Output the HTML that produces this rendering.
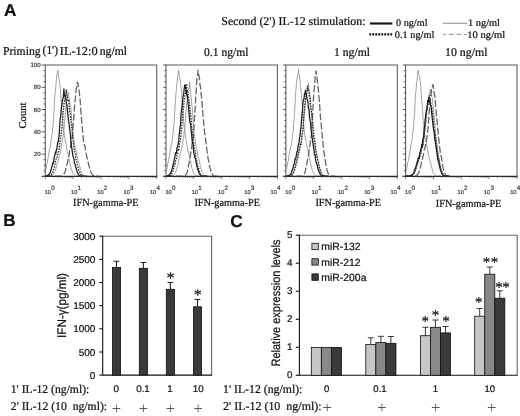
<!DOCTYPE html>
<html><head><meta charset="utf-8"><title>Figure</title>
<style>
html,body{margin:0;padding:0;background:#fff;}
body{width:520px;height:416px;overflow:hidden;}
svg{display:block;}
text{fill:#111;stroke:#111;stroke-width:0.22px;}
.se{font-family:"Liberation Serif",serif;}
.sa{font-family:"Liberation Sans",sans-serif;}
</style></head><body>
<svg width="520" height="416" viewBox="0 0 520 416" text-rendering="geometricPrecision">
<rect width="520" height="416" fill="#fff"/>

<text class="sa" x="3.9" y="15.6" font-size="17.2" font-weight="bold" stroke="#111" stroke-width="0.3">A</text>
<text class="sa" x="3.2" y="225.8" font-size="17" font-weight="bold" stroke="#111" stroke-width="0.3">B</text>
<text class="sa" x="230.2" y="226.9" font-size="17.2" font-weight="bold" stroke="#111" stroke-width="0.3">C</text>
<text class="se" x="221.3" y="24.6" font-size="11.9" textLength="144.3" lengthAdjust="spacingAndGlyphs">Second (2') IL-12 stimulation:</text>
<line x1="370" y1="23.5" x2="392.3" y2="23.5" stroke="#111" stroke-width="2.1"/>
<text class="se" x="396" y="25.8" font-size="10" textLength="31.5" lengthAdjust="spacingAndGlyphs">0 ng/ml</text>
<line x1="443" y1="23.3" x2="467.3" y2="23.3" stroke="#a0a0a0" stroke-width="1.2"/>
<text class="se" x="468" y="25.8" font-size="10" textLength="32" lengthAdjust="spacingAndGlyphs">1 ng/ml</text>
<line x1="369.3" y1="34.4" x2="393.2" y2="34.4" stroke="#111" stroke-width="2.2" stroke-dasharray="1.9 1.1"/>
<text class="se" x="394.8" y="37.6" font-size="10" textLength="39.6" lengthAdjust="spacingAndGlyphs">0.1 ng/ml</text>
<line x1="443" y1="34.4" x2="467.3" y2="34.4" stroke="#a0a0a0" stroke-width="1.2" stroke-dasharray="4.7 3" stroke-dashoffset="1.9"/>
<text class="se" x="467.3" y="37.6" font-size="10" textLength="38" lengthAdjust="spacingAndGlyphs">10 ng/ml</text>
<text class="se" y="54.5" font-size="12.2"><tspan x="3" textLength="37.6" lengthAdjust="spacingAndGlyphs">Priming</tspan><tspan x="42.6" dy="-0.7" textLength="15.4" lengthAdjust="spacingAndGlyphs">(1')</tspan><tspan x="59.8" dy="0.7" textLength="37.8" lengthAdjust="spacingAndGlyphs">IL-12:0</tspan><tspan x="99.8" textLength="27.2" lengthAdjust="spacingAndGlyphs">ng/ml</tspan></text>
<text class="se" x="204" y="55.6" font-size="11.8" textLength="44.5" lengthAdjust="spacingAndGlyphs">0.1 ng/ml</text>
<text class="se" x="334" y="55.6" font-size="11.8" textLength="36" lengthAdjust="spacingAndGlyphs">1 ng/ml</text>
<text class="se" x="445" y="55.6" font-size="11.8" textLength="42.5" lengthAdjust="spacingAndGlyphs">10 ng/ml</text>
<text class="se" transform="translate(25.6,115.5) rotate(-90)" text-anchor="middle" font-size="10.6">Count</text>
<g fill="none" stroke-linejoin="round">
<path d="M45.9,169.1 L46.4,165.8 L46.9,163.5 L47.4,162.2 L47.9,159.0 L48.4,156.4 L48.9,152.9 L49.4,149.7 L49.9,149.3 L50.4,146.6 L50.9,140.8 L51.4,139.2 L51.9,134.7 L52.4,133.1 L52.9,126.7 L53.4,119.6 L53.9,113.6 L54.4,102.6 L54.9,95.0 L55.4,91.4 L55.9,85.7 L56.4,79.0 L56.9,73.8 L57.4,73.4 L57.9,70.4 L58.4,74.4 L58.9,78.7 L59.4,81.8 L59.9,85.4 L60.4,90.3 L60.9,97.1 L61.4,103.8 L61.9,111.1 L62.4,117.3 L62.9,124.1 L63.4,129.8 L63.9,130.9 L64.4,135.6 L64.9,138.2 L65.4,142.5 L65.9,142.2 L66.4,145.2 L66.9,150.4 L67.4,152.1 L67.9,153.1 L68.4,155.6 L68.9,157.4 L69.4,161.1 L69.9,162.5 L70.4,164.9 L70.9,167.5 L71.4,169.0 L71.9,170.6 L72.4,172.0 L72.9,173.2 L73.4,173.8 L73.9,174.5 L74.4,175.0 L74.9,175.4 L75.4,175.7 L75.9,176.0 L76.4,176.1 L76.9,176.1 L77.4,176.1 L77.9,176.1 L78.4,176.1 L78.9,176.1 L79.4,176.1 L79.9,176.1 L80.4,176.1 L80.9,176.1" stroke="#8c8c8c" stroke-width="0.8"/>
<path d="M45.9,176.1 L46.4,176.1 L46.9,176.1 L47.4,176.1 L47.9,176.1 L48.4,176.1 L48.9,176.1 L49.4,176.1 L49.9,176.1 L50.4,176.1 L50.9,176.1 L51.4,175.8 L51.9,175.6 L52.4,175.3 L52.9,174.8 L53.4,174.3 L53.9,173.7 L54.4,172.6 L54.9,171.2 L55.4,170.5 L55.9,168.9 L56.4,166.3 L56.9,164.6 L57.4,162.8 L57.9,161.7 L58.4,159.0 L58.9,157.0 L59.4,155.1 L59.9,154.5 L60.4,151.4 L60.9,149.4 L61.4,146.1 L61.9,142.7 L62.4,139.8 L62.9,138.0 L63.4,134.3 L63.9,129.7 L64.4,124.6 L64.9,118.7 L65.4,111.9 L65.9,107.9 L66.4,103.7 L66.9,98.4 L67.4,97.0 L67.9,95.1 L68.4,92.4 L68.9,97.6 L69.4,98.9 L69.9,102.9 L70.4,105.5 L70.9,108.3 L71.4,114.7 L71.9,122.5 L72.4,126.3 L72.9,132.3 L73.4,136.8 L73.9,139.8 L74.4,143.5 L74.9,145.9 L75.4,149.7 L75.9,149.7 L76.4,152.0 L76.9,156.9 L77.4,157.1 L77.9,159.3 L78.4,162.0 L78.9,163.9 L79.4,165.9 L79.9,167.0 L80.4,169.3 L80.9,170.7 L81.4,172.5 L81.9,173.4 L82.4,174.1 L82.9,174.7 L83.4,175.2 L83.9,175.6 L84.4,175.8 L84.9,176.1 L85.4,176.1 L85.9,176.1 L86.4,176.1 L86.9,176.1 L87.4,176.1 L87.9,176.1 L88.4,176.1 L88.9,176.1 L89.4,176.1" stroke="#8c8c8c" stroke-width="0.8"/>
<path d="M45.9,176.1 L46.4,176.1 L46.9,176.1 L47.4,176.1 L47.9,176.1 L48.4,176.1 L48.9,176.1 L49.4,176.1 L49.9,176.1 L50.4,176.1 L50.9,176.1 L51.4,176.1 L51.9,176.1 L52.4,176.1 L52.9,176.1 L53.4,176.1 L53.9,176.1 L54.4,176.1 L54.9,176.1 L55.4,176.1 L55.9,176.1 L56.4,176.1 L56.9,176.1 L57.4,176.1 L57.9,176.1 L58.4,176.1 L58.9,176.1 L59.4,176.1 L59.9,176.1 L60.4,176.1 L60.9,176.1 L61.4,176.1 L61.9,175.9 L62.4,175.6 L62.9,175.3 L63.4,174.7 L63.9,174.0 L64.4,173.4 L64.9,172.5 L65.4,170.6 L65.9,168.8 L66.4,166.5 L66.9,164.3 L67.4,163.3 L67.9,161.2 L68.4,156.4 L68.9,155.9 L69.4,153.5 L69.9,148.2 L70.4,147.4 L70.9,143.5 L71.4,142.0 L71.9,138.0 L72.4,135.8 L72.9,129.4 L73.4,122.6 L73.9,116.5 L74.4,108.4 L74.9,102.1 L75.4,98.7 L75.9,91.4 L76.4,88.0 L76.9,86.0 L77.4,82.2 L77.9,83.2 L78.4,86.8 L78.9,89.3 L79.4,92.9 L79.9,98.3 L80.4,103.2 L80.9,111.6 L81.4,117.3 L81.9,125.3 L82.4,129.0 L82.9,133.6 L83.4,140.1 L83.9,143.2 L84.4,145.5 L84.9,145.4 L85.4,149.8 L85.9,151.6 L86.4,155.1 L86.9,156.7 L87.4,159.4 L87.9,161.7 L88.4,163.4 L88.9,165.5 L89.4,167.0 L89.9,169.3 L90.4,170.9 L90.9,172.5 L91.4,173.5 L91.9,174.2 L92.4,174.8 L92.9,175.3 L93.4,175.6 L93.9,175.9 L94.4,176.1 L94.9,176.1 L95.4,176.1 L95.9,176.1 L96.4,176.1 L96.9,176.1 L97.4,176.1 L97.9,176.1 L98.4,176.1 L98.9,176.1" stroke="#666" stroke-width="1.3" stroke-dasharray="7 2.2"/>
<path d="M45.9,176.1 L46.4,176.1 L46.9,176.1 L47.4,176.1 L47.9,176.1 L48.4,176.1 L48.9,176.1 L49.4,175.8 L49.9,175.6 L50.4,175.3 L50.9,174.8 L51.4,174.2 L51.9,173.7 L52.4,173.0 L52.9,171.9 L53.4,170.1 L53.9,168.9 L54.4,167.5 L54.9,165.1 L55.4,161.9 L55.9,160.1 L56.4,158.1 L56.9,158.2 L57.4,154.9 L57.9,154.0 L58.4,152.3 L58.9,150.4 L59.4,147.8 L59.9,142.1 L60.4,139.5 L60.9,136.3 L61.4,132.3 L61.9,129.7 L62.4,123.1 L62.9,115.8 L63.4,110.0 L63.9,104.8 L64.4,100.7 L64.9,100.8 L65.4,95.7 L65.9,93.5 L66.4,90.2 L66.9,95.7 L67.4,96.1 L67.9,100.3 L68.4,99.4 L68.9,103.0 L69.4,108.1 L69.9,113.2 L70.4,114.8 L70.9,120.7 L71.4,123.8 L71.9,128.4 L72.4,134.2 L72.9,138.7 L73.4,141.8 L73.9,146.1 L74.4,150.5 L74.9,152.9 L75.4,153.5 L75.9,159.3 L76.4,161.5 L76.9,162.1 L77.4,165.1 L77.9,166.6 L78.4,168.6 L78.9,170.4 L79.4,171.2 L79.9,173.1 L80.4,173.9 L80.9,174.7 L81.4,175.2 L81.9,175.7 L82.4,176.0 L82.9,176.1 L83.4,176.1 L83.9,176.1 L84.4,176.1 L84.9,176.1 L85.4,176.1 L85.9,176.1 L86.4,176.1 L86.9,176.1 L87.4,176.1" stroke="#222" stroke-width="1.35" stroke-dasharray="1.4 1.3"/>
<path d="M45.9,176.1 L46.4,176.1 L46.9,175.9 L47.4,175.7 L47.9,175.4 L48.4,175.0 L48.9,174.4 L49.4,173.9 L49.9,173.2 L50.4,172.0 L50.9,170.3 L51.4,168.5 L51.9,166.5 L52.4,165.1 L52.9,162.7 L53.4,163.2 L53.9,160.0 L54.4,156.2 L54.9,155.3 L55.4,152.0 L55.9,153.4 L56.4,149.7 L56.9,148.5 L57.4,144.8 L57.9,141.9 L58.4,141.2 L58.9,136.5 L59.4,131.5 L59.9,122.9 L60.4,117.5 L60.9,114.5 L61.4,106.8 L61.9,105.4 L62.4,99.7 L62.9,98.7 L63.4,97.0 L63.9,88.8 L64.4,95.2 L64.9,96.6 L65.4,95.3 L65.9,98.4 L66.4,104.1 L66.9,104.7 L67.4,110.5 L67.9,114.1 L68.4,120.5 L68.9,121.7 L69.4,127.3 L69.9,130.5 L70.4,135.0 L70.9,141.6 L71.4,145.0 L71.9,149.2 L72.4,152.4 L72.9,155.7 L73.4,157.3 L73.9,158.7 L74.4,163.0 L74.9,163.3 L75.4,166.2 L75.9,168.1 L76.4,169.1 L76.9,171.1 L77.4,172.6 L77.9,173.5 L78.4,174.4 L78.9,175.0 L79.4,175.5 L79.9,175.9 L80.4,176.1 L80.9,176.1 L81.4,176.1 L81.9,176.1 L82.4,176.1 L82.9,176.1 L83.4,176.1 L83.9,176.1 L84.4,176.1 L84.9,176.1" stroke="#1c1c1c" stroke-width="1.25"/>
</g>
<path d="M45.3,176.4V65.0H156.7V176.4" fill="none" stroke="#5a5a5a" stroke-width="1.05"/>
<path d="M42.3,176.4H157.29999999999998" fill="none" stroke="#2a2a2a" stroke-width="1.4"/>
<path d="M41.5,176.4H45.3M43.6,170.8H45.3M43.6,165.3H45.3M43.6,159.7H45.3M41.5,154.1H45.3M43.6,148.6H45.3M43.6,143.0H45.3M43.6,137.4H45.3M41.5,131.8H45.3M43.6,126.3H45.3M43.6,120.7H45.3M43.6,115.1H45.3M41.5,109.6H45.3M43.6,104.0H45.3M43.6,98.4H45.3M43.6,92.9H45.3M41.5,87.3H45.3M43.6,81.7H45.3M43.6,76.1H45.3M43.6,70.6H45.3M41.5,65.0H45.3" stroke="#444" stroke-width="0.9" fill="none"/>
<path d="M45.3,176.4v2.8M53.7,176.4v1.5M58.6,176.4v1.5M62.1,176.4v1.5M64.8,176.4v1.5M67.0,176.4v1.5M68.8,176.4v1.5M70.5,176.4v1.5M71.9,176.4v1.5M73.2,176.4v2.8M81.5,176.4v1.5M86.4,176.4v1.5M89.9,176.4v1.5M92.6,176.4v1.5M94.8,176.4v1.5M96.7,176.4v1.5M98.3,176.4v1.5M99.7,176.4v1.5M101.0,176.4v2.8M109.4,176.4v1.5M114.3,176.4v1.5M117.8,176.4v1.5M120.5,176.4v1.5M122.7,176.4v1.5M124.5,176.4v1.5M126.2,176.4v1.5M127.6,176.4v1.5M128.9,176.4v2.8M137.2,176.4v1.5M142.1,176.4v1.5M145.6,176.4v1.5M148.3,176.4v1.5M150.5,176.4v1.5M152.4,176.4v1.5M154.0,176.4v1.5M155.4,176.4v1.5M156.7,176.4v2.8" stroke="#333" stroke-width="0.6" fill="none"/>
<text class="sa" x="44.7" y="193.5" font-size="5.7" style="fill:#3a3a3a;stroke:#3a3a3a;stroke-width:0.2px">10</text>
<text class="sa" x="51.2" y="189.8" font-size="6.3" style="fill:#3a3a3a;stroke:#3a3a3a;stroke-width:0.2px">0</text>
<text class="sa" x="71.0" y="193.5" font-size="5.7" style="fill:#3a3a3a;stroke:#3a3a3a;stroke-width:0.2px">10</text>
<text class="sa" x="77.5" y="189.8" font-size="6.3" style="fill:#3a3a3a;stroke:#3a3a3a;stroke-width:0.2px">1</text>
<text class="sa" x="97.3" y="193.5" font-size="5.7" style="fill:#3a3a3a;stroke:#3a3a3a;stroke-width:0.2px">10</text>
<text class="sa" x="103.8" y="189.8" font-size="6.3" style="fill:#3a3a3a;stroke:#3a3a3a;stroke-width:0.2px">2</text>
<text class="sa" x="123.6" y="193.5" font-size="5.7" style="fill:#3a3a3a;stroke:#3a3a3a;stroke-width:0.2px">10</text>
<text class="sa" x="130.1" y="189.8" font-size="6.3" style="fill:#3a3a3a;stroke:#3a3a3a;stroke-width:0.2px">3</text>
<text class="sa" x="149.9" y="193.5" font-size="5.7" style="fill:#3a3a3a;stroke:#3a3a3a;stroke-width:0.2px">10</text>
<text class="sa" x="156.4" y="189.8" font-size="6.3" style="fill:#3a3a3a;stroke:#3a3a3a;stroke-width:0.2px">4</text>
<text class="se" x="73.0" y="206.4" font-size="10.9" textLength="65.6" lengthAdjust="spacingAndGlyphs">IFN-gamma-PE</text>
<g fill="none" stroke-linejoin="round">
<path d="M166.6,169.6 L167.1,167.2 L167.6,164.2 L168.1,162.7 L168.6,160.0 L169.1,157.0 L169.6,155.7 L170.1,151.8 L170.6,148.6 L171.1,145.1 L171.6,144.6 L172.1,140.9 L172.6,138.4 L173.1,131.9 L173.6,127.8 L174.1,124.7 L174.6,114.2 L175.1,105.9 L175.6,98.8 L176.1,91.9 L176.6,87.4 L177.1,82.7 L177.6,76.5 L178.1,75.0 L178.6,70.0 L179.1,74.2 L179.6,77.5 L180.1,79.3 L180.6,83.6 L181.1,87.0 L181.6,93.7 L182.1,99.6 L182.6,107.1 L183.1,114.0 L183.6,121.3 L184.1,127.0 L184.6,128.8 L185.1,132.6 L185.6,136.3 L186.1,139.6 L186.6,143.6 L187.1,146.5 L187.6,148.8 L188.1,152.1 L188.6,152.0 L189.1,155.6 L189.6,156.6 L190.1,160.3 L190.6,161.3 L191.1,163.7 L191.6,167.2 L192.1,168.7 L192.6,169.8 L193.1,171.9 L193.6,172.6 L194.1,173.6 L194.6,174.2 L195.1,174.8 L195.6,175.3 L196.1,175.6 L196.6,175.9 L197.1,176.1 L197.6,176.1 L198.1,176.1 L198.6,176.1 L199.1,176.1 L199.6,176.1 L200.1,176.1 L200.6,176.1 L201.1,176.1 L201.6,176.1" stroke="#8c8c8c" stroke-width="0.8"/>
<path d="M166.6,176.1 L167.1,176.1 L167.6,176.1 L168.1,176.1 L168.6,176.1 L169.1,176.1 L169.6,176.1 L170.1,176.1 L170.6,176.1 L171.1,176.1 L171.6,176.1 L172.1,176.0 L172.6,175.7 L173.1,175.5 L173.6,175.1 L174.1,174.5 L174.6,173.9 L175.1,173.3 L175.6,172.3 L176.1,170.7 L176.6,168.9 L177.1,167.8 L177.6,166.3 L178.1,163.8 L178.6,162.0 L179.1,158.5 L179.6,156.6 L180.1,154.7 L180.6,152.6 L181.1,150.0 L181.6,149.5 L182.1,146.1 L182.6,144.7 L183.1,139.2 L183.6,138.9 L184.1,132.4 L184.6,130.5 L185.1,122.4 L185.6,117.0 L186.1,110.4 L186.6,103.2 L187.1,101.3 L187.6,96.9 L188.1,90.3 L188.6,88.9 L189.1,88.7 L189.6,82.0 L190.1,87.2 L190.6,93.3 L191.1,96.2 L191.6,102.0 L192.1,106.9 L192.6,112.4 L193.1,121.2 L193.6,126.2 L194.1,134.0 L194.6,137.9 L195.1,139.4 L195.6,143.9 L196.1,146.5 L196.6,148.4 L197.1,151.4 L197.6,154.2 L198.1,157.7 L198.6,157.9 L199.1,159.7 L199.6,162.2 L200.1,165.1 L200.6,167.6 L201.1,169.5 L201.6,171.0 L202.1,172.6 L202.6,173.6 L203.1,174.2 L203.6,174.9 L204.1,175.4 L204.6,175.7 L205.1,176.0 L205.6,176.1 L206.1,176.1 L206.6,176.1 L207.1,176.1 L207.6,176.1 L208.1,176.1 L208.6,176.1 L209.1,176.1 L209.6,176.1 L210.1,176.1" stroke="#8c8c8c" stroke-width="0.8"/>
<path d="M166.6,176.1 L167.1,176.1 L167.6,176.1 L168.1,176.1 L168.6,176.1 L169.1,176.1 L169.6,176.1 L170.1,176.1 L170.6,176.1 L171.1,176.1 L171.6,176.1 L172.1,176.1 L172.6,176.1 L173.1,176.1 L173.6,176.1 L174.1,176.1 L174.6,176.1 L175.1,176.1 L175.6,176.1 L176.1,176.1 L176.6,176.1 L177.1,176.1 L177.6,176.1 L178.1,176.1 L178.6,176.1 L179.1,176.1 L179.6,176.1 L180.1,176.1 L180.6,176.1 L181.1,176.1 L181.6,176.1 L182.1,176.1 L182.6,176.1 L183.1,176.1 L183.6,176.1 L184.1,176.1 L184.6,175.9 L185.1,175.6 L185.6,175.1 L186.1,174.4 L186.6,173.5 L187.1,172.6 L187.6,170.4 L188.1,167.9 L188.6,164.9 L189.1,163.5 L189.6,160.5 L190.1,157.8 L190.6,154.5 L191.1,149.5 L191.6,148.4 L192.1,143.5 L192.6,141.2 L193.1,137.0 L193.6,131.5 L194.1,124.1 L194.6,116.9 L195.1,109.4 L195.6,99.4 L196.1,92.3 L196.6,83.4 L197.1,78.4 L197.6,74.8 L198.1,70.2 L198.6,74.7 L199.1,76.2 L199.6,79.9 L200.1,85.5 L200.6,87.6 L201.1,93.7 L201.6,97.8 L202.1,103.9 L202.6,110.0 L203.1,115.9 L203.6,121.2 L204.1,127.0 L204.6,132.8 L205.1,135.0 L205.6,139.4 L206.1,142.7 L206.6,147.4 L207.1,151.4 L207.6,154.0 L208.1,159.0 L208.6,160.4 L209.1,163.6 L209.6,166.4 L210.1,168.5 L210.6,170.0 L211.1,171.8 L211.6,173.0 L212.1,174.1 L212.6,174.9 L213.1,175.4 L213.6,175.9 L214.1,176.1 L214.6,176.1 L215.1,176.1 L215.6,176.1 L216.1,176.1 L216.6,176.1 L217.1,176.1 L217.6,176.1 L218.1,176.1 L218.6,176.1" stroke="#666" stroke-width="1.3" stroke-dasharray="7 2.2"/>
<path d="M166.6,176.1 L167.1,176.1 L167.6,176.1 L168.1,176.1 L168.6,176.1 L169.1,175.9 L169.6,175.7 L170.1,175.4 L170.6,175.0 L171.1,174.5 L171.6,173.9 L172.1,173.2 L172.6,172.5 L173.1,170.4 L173.6,168.7 L174.1,166.4 L174.6,165.9 L175.1,164.1 L175.6,160.7 L176.1,158.8 L176.6,158.0 L177.1,154.4 L177.6,153.5 L178.1,149.6 L178.6,150.3 L179.1,147.5 L179.6,142.1 L180.1,141.7 L180.6,138.8 L181.1,132.5 L181.6,128.6 L182.1,124.8 L182.6,116.5 L183.1,109.9 L183.6,106.9 L184.1,100.1 L184.6,98.5 L185.1,94.2 L185.6,92.7 L186.1,87.5 L186.6,83.9 L187.1,91.0 L187.6,90.5 L188.1,95.6 L188.6,98.0 L189.1,100.6 L189.6,105.5 L190.1,112.4 L190.6,114.8 L191.1,119.3 L191.6,126.0 L192.1,131.1 L192.6,132.1 L193.1,137.9 L193.6,143.2 L194.1,145.7 L194.6,150.1 L195.1,150.6 L195.6,154.9 L196.1,159.1 L196.6,159.2 L197.1,163.7 L197.6,165.4 L198.1,167.8 L198.6,168.5 L199.1,171.0 L199.6,171.9 L200.1,173.2 L200.6,174.1 L201.1,174.8 L201.6,175.4 L202.1,175.8 L202.6,176.1 L203.1,176.1 L203.6,176.1 L204.1,176.1 L204.6,176.1 L205.1,176.1 L205.6,176.1 L206.1,176.1 L206.6,176.1 L207.1,176.1 L207.6,176.1" stroke="#222" stroke-width="1.35" stroke-dasharray="1.4 1.3"/>
<path d="M166.6,176.1 L167.1,176.1 L167.6,175.9 L168.1,175.7 L168.6,175.4 L169.1,175.0 L169.6,174.4 L170.1,173.8 L170.6,173.1 L171.1,171.7 L171.6,171.1 L172.1,168.5 L172.6,167.7 L173.1,164.2 L173.6,164.6 L174.1,160.1 L174.6,158.5 L175.1,155.7 L175.6,152.8 L176.1,153.9 L176.6,151.3 L177.1,147.3 L177.6,146.9 L178.1,144.5 L178.6,141.8 L179.1,135.7 L179.6,131.7 L180.1,127.3 L180.6,123.9 L181.1,114.2 L181.6,109.8 L182.1,105.8 L182.6,100.2 L183.1,96.3 L183.6,94.4 L184.1,89.6 L184.6,85.8 L185.1,84.7 L185.6,87.5 L186.1,90.7 L186.6,94.4 L187.1,95.4 L187.6,98.3 L188.1,104.4 L188.6,106.5 L189.1,115.0 L189.6,118.9 L190.1,123.4 L190.6,124.5 L191.1,130.0 L191.6,134.2 L192.1,140.1 L192.6,142.9 L193.1,144.5 L193.6,151.2 L194.1,154.1 L194.6,157.1 L195.1,157.9 L195.6,159.2 L196.1,162.5 L196.6,165.0 L197.1,166.8 L197.6,169.1 L198.1,169.8 L198.6,171.9 L199.1,173.1 L199.6,173.9 L200.1,174.6 L200.6,175.2 L201.1,175.6 L201.6,176.0 L202.1,176.1 L202.6,176.1 L203.1,176.1 L203.6,176.1 L204.1,176.1 L204.6,176.1 L205.1,176.1 L205.6,176.1 L206.1,176.1 L206.6,176.1" stroke="#1c1c1c" stroke-width="1.25"/>
</g>
<path d="M166.0,176.4V65.0H277.4V176.4" fill="none" stroke="#5a5a5a" stroke-width="1.05"/>
<path d="M163.0,176.4H278.0" fill="none" stroke="#2a2a2a" stroke-width="1.4"/>
<path d="M163.2,176.4H166.0M164.3,170.8H166.0M164.3,165.3H166.0M164.3,159.7H166.0M163.2,154.1H166.0M164.3,148.6H166.0M164.3,143.0H166.0M164.3,137.4H166.0M163.2,131.8H166.0M164.3,126.3H166.0M164.3,120.7H166.0M164.3,115.1H166.0M163.2,109.6H166.0M164.3,104.0H166.0M164.3,98.4H166.0M164.3,92.9H166.0M163.2,87.3H166.0M164.3,81.7H166.0M164.3,76.1H166.0M164.3,70.6H166.0M163.2,65.0H166.0" stroke="#444" stroke-width="0.9" fill="none"/>
<path d="M166.0,176.4v2.8M174.4,176.4v1.5M179.3,176.4v1.5M182.8,176.4v1.5M185.5,176.4v1.5M187.7,176.4v1.5M189.5,176.4v1.5M191.2,176.4v1.5M192.6,176.4v1.5M193.8,176.4v2.8M202.2,176.4v1.5M207.1,176.4v1.5M210.6,176.4v1.5M213.3,176.4v1.5M215.5,176.4v1.5M217.4,176.4v1.5M219.0,176.4v1.5M220.4,176.4v1.5M221.7,176.4v2.8M230.1,176.4v1.5M235.0,176.4v1.5M238.5,176.4v1.5M241.2,176.4v1.5M243.4,176.4v1.5M245.2,176.4v1.5M246.9,176.4v1.5M248.3,176.4v1.5M249.6,176.4v2.8M257.9,176.4v1.5M262.8,176.4v1.5M266.3,176.4v1.5M269.0,176.4v1.5M271.2,176.4v1.5M273.1,176.4v1.5M274.7,176.4v1.5M276.1,176.4v1.5M277.4,176.4v2.8" stroke="#333" stroke-width="0.6" fill="none"/>
<text class="sa" x="165.4" y="193.5" font-size="5.7" style="fill:#3a3a3a;stroke:#3a3a3a;stroke-width:0.2px">10</text>
<text class="sa" x="171.9" y="189.8" font-size="6.3" style="fill:#3a3a3a;stroke:#3a3a3a;stroke-width:0.2px">0</text>
<text class="sa" x="191.7" y="193.5" font-size="5.7" style="fill:#3a3a3a;stroke:#3a3a3a;stroke-width:0.2px">10</text>
<text class="sa" x="198.2" y="189.8" font-size="6.3" style="fill:#3a3a3a;stroke:#3a3a3a;stroke-width:0.2px">1</text>
<text class="sa" x="218.0" y="193.5" font-size="5.7" style="fill:#3a3a3a;stroke:#3a3a3a;stroke-width:0.2px">10</text>
<text class="sa" x="224.5" y="189.8" font-size="6.3" style="fill:#3a3a3a;stroke:#3a3a3a;stroke-width:0.2px">2</text>
<text class="sa" x="244.3" y="193.5" font-size="5.7" style="fill:#3a3a3a;stroke:#3a3a3a;stroke-width:0.2px">10</text>
<text class="sa" x="250.8" y="189.8" font-size="6.3" style="fill:#3a3a3a;stroke:#3a3a3a;stroke-width:0.2px">3</text>
<text class="sa" x="270.6" y="193.5" font-size="5.7" style="fill:#3a3a3a;stroke:#3a3a3a;stroke-width:0.2px">10</text>
<text class="sa" x="277.1" y="189.8" font-size="6.3" style="fill:#3a3a3a;stroke:#3a3a3a;stroke-width:0.2px">4</text>
<text class="se" x="194.4" y="206.4" font-size="10.9" textLength="65.6" lengthAdjust="spacingAndGlyphs">IFN-gamma-PE</text>
<g fill="none" stroke-linejoin="round">
<path d="M286.5,169.0 L287.0,166.1 L287.5,163.8 L288.0,161.6 L288.5,159.7 L289.0,155.3 L289.5,152.4 L290.0,150.7 L290.5,147.9 L291.0,145.9 L291.5,143.7 L292.0,139.5 L292.5,135.3 L293.0,132.9 L293.5,125.4 L294.0,121.4 L294.5,113.6 L295.0,105.8 L295.5,94.6 L296.0,88.9 L296.5,82.7 L297.0,78.8 L297.5,77.0 L298.0,73.6 L298.5,69.4 L299.0,75.5 L299.5,75.4 L300.0,81.2 L300.5,86.4 L301.0,89.2 L301.5,97.5 L302.0,101.4 L302.5,110.3 L303.0,117.0 L303.5,123.9 L304.0,128.2 L304.5,133.2 L305.0,137.4 L305.5,137.4 L306.0,142.3 L306.5,142.9 L307.0,147.6 L307.5,147.4 L308.0,150.1 L308.5,153.0 L309.0,155.4 L309.5,158.4 L310.0,160.4 L310.5,164.0 L311.0,165.2 L311.5,166.7 L312.0,169.5 L312.5,170.5 L313.0,172.0 L313.5,173.2 L314.0,173.8 L314.5,174.5 L315.0,175.0 L315.5,175.4 L316.0,175.7 L316.5,176.0 L317.0,176.1 L317.5,176.1 L318.0,176.1 L318.5,176.1 L319.0,176.1 L319.5,176.1 L320.0,176.1 L320.5,176.1 L321.0,176.1 L321.5,176.1" stroke="#8c8c8c" stroke-width="0.8"/>
<path d="M286.5,176.1 L287.0,176.1 L287.5,176.1 L288.0,176.1 L288.5,176.1 L289.0,176.1 L289.5,176.0 L290.0,175.7 L290.5,175.5 L291.0,175.1 L291.5,174.7 L292.0,174.1 L292.5,173.6 L293.0,172.5 L293.5,171.9 L294.0,170.7 L294.5,168.0 L295.0,167.5 L295.5,166.0 L296.0,163.3 L296.5,162.0 L297.0,158.7 L297.5,158.6 L298.0,154.4 L298.5,154.5 L299.0,151.5 L299.5,148.2 L300.0,147.0 L300.5,144.0 L301.0,142.5 L301.5,142.3 L302.0,136.2 L302.5,133.8 L303.0,130.8 L303.5,125.9 L304.0,117.7 L304.5,112.8 L305.0,106.1 L305.5,101.9 L306.0,97.0 L306.5,94.8 L307.0,91.2 L307.5,89.2 L308.0,89.0 L308.5,83.1 L309.0,90.4 L309.5,91.8 L310.0,95.2 L310.5,101.0 L311.0,108.3 L311.5,112.3 L312.0,120.0 L312.5,128.5 L313.0,134.5 L313.5,137.1 L314.0,142.6 L314.5,142.4 L315.0,146.5 L315.5,149.0 L316.0,151.9 L316.5,153.5 L317.0,155.1 L317.5,159.3 L318.0,161.4 L318.5,163.2 L319.0,165.8 L319.5,167.3 L320.0,169.3 L320.5,171.3 L321.0,172.6 L321.5,173.6 L322.0,174.3 L322.5,174.9 L323.0,175.4 L323.5,175.7 L324.0,176.0 L324.5,176.1 L325.0,176.1 L325.5,176.1 L326.0,176.1 L326.5,176.1 L327.0,176.1 L327.5,176.1 L328.0,176.1 L328.5,176.1 L329.0,176.1" stroke="#8c8c8c" stroke-width="0.8"/>
<path d="M286.5,176.1 L287.0,176.1 L287.5,176.1 L288.0,176.1 L288.5,176.1 L289.0,176.1 L289.5,176.1 L290.0,176.1 L290.5,176.1 L291.0,176.1 L291.5,176.1 L292.0,176.1 L292.5,176.1 L293.0,176.1 L293.5,176.1 L294.0,176.1 L294.5,176.1 L295.0,176.1 L295.5,176.1 L296.0,176.1 L296.5,176.1 L297.0,176.1 L297.5,176.1 L298.0,176.1 L298.5,176.1 L299.0,176.1 L299.5,176.1 L300.0,176.1 L300.5,176.1 L301.0,176.1 L301.5,176.1 L302.0,176.1 L302.5,175.9 L303.0,175.6 L303.5,175.1 L304.0,174.4 L304.5,173.5 L305.0,172.2 L305.5,170.2 L306.0,167.6 L306.5,166.3 L307.0,162.6 L307.5,160.0 L308.0,156.6 L308.5,154.9 L309.0,151.5 L309.5,147.2 L310.0,144.6 L310.5,140.4 L311.0,138.0 L311.5,132.8 L312.0,124.6 L312.5,117.6 L313.0,107.6 L313.5,97.8 L314.0,91.6 L314.5,86.3 L315.0,78.5 L315.5,75.5 L316.0,70.8 L316.5,75.5 L317.0,76.9 L317.5,82.8 L318.0,85.7 L318.5,92.2 L319.0,97.1 L319.5,102.8 L320.0,110.3 L320.5,117.4 L321.0,122.3 L321.5,127.3 L322.0,133.3 L322.5,138.9 L323.0,142.8 L323.5,148.6 L324.0,152.6 L324.5,155.7 L325.0,157.6 L325.5,162.3 L326.0,165.3 L326.5,167.7 L327.0,170.0 L327.5,171.5 L328.0,172.8 L328.5,174.1 L329.0,174.9 L329.5,175.5 L330.0,176.0 L330.5,176.1 L331.0,176.1 L331.5,176.1 L332.0,176.1 L332.5,176.1 L333.0,176.1 L333.5,176.1 L334.0,176.1 L334.5,176.1 L335.0,176.1" stroke="#666" stroke-width="1.3" stroke-dasharray="7 2.2"/>
<path d="M286.5,176.1 L287.0,176.1 L287.5,176.1 L288.0,176.1 L288.5,176.1 L289.0,176.1 L289.5,176.1 L290.0,176.1 L290.5,175.9 L291.0,175.6 L291.5,175.3 L292.0,174.8 L292.5,174.2 L293.0,173.7 L293.5,172.7 L294.0,171.2 L294.5,170.4 L295.0,167.5 L295.5,167.2 L296.0,164.3 L296.5,163.9 L297.0,159.9 L297.5,159.9 L298.0,155.7 L298.5,153.5 L299.0,151.1 L299.5,150.3 L300.0,146.2 L300.5,143.4 L301.0,144.7 L301.5,139.9 L302.0,134.5 L302.5,131.3 L303.0,127.4 L303.5,121.8 L304.0,112.6 L304.5,110.8 L305.0,102.8 L305.5,98.0 L306.0,97.4 L306.5,93.5 L307.0,91.4 L307.5,86.1 L308.0,90.7 L308.5,90.0 L309.0,92.3 L309.5,97.9 L310.0,98.7 L310.5,106.2 L311.0,110.2 L311.5,112.1 L312.0,116.1 L312.5,120.7 L313.0,124.6 L313.5,129.7 L314.0,136.7 L314.5,138.7 L315.0,141.7 L315.5,148.9 L316.0,150.3 L316.5,154.8 L317.0,157.5 L317.5,158.8 L318.0,160.8 L318.5,162.4 L319.0,166.6 L319.5,167.8 L320.0,168.9 L320.5,170.9 L321.0,172.4 L321.5,173.6 L322.0,174.4 L322.5,175.1 L323.0,175.6 L323.5,175.9 L324.0,176.1 L324.5,176.1 L325.0,176.1 L325.5,176.1 L326.0,176.1 L326.5,176.1 L327.0,176.1 L327.5,176.1 L328.0,176.1 L328.5,176.1" stroke="#222" stroke-width="1.35" stroke-dasharray="1.4 1.3"/>
<path d="M286.5,176.1 L287.0,176.1 L287.5,176.1 L288.0,176.0 L288.5,175.8 L289.0,175.5 L289.5,175.1 L290.0,174.6 L290.5,174.1 L291.0,173.4 L291.5,172.6 L292.0,170.7 L292.5,169.0 L293.0,168.3 L293.5,165.4 L294.0,164.0 L294.5,163.6 L295.0,158.9 L295.5,159.2 L296.0,157.1 L296.5,154.6 L297.0,151.7 L297.5,151.6 L298.0,146.9 L298.5,144.0 L299.0,142.8 L299.5,138.4 L300.0,135.6 L300.5,130.4 L301.0,127.7 L301.5,120.7 L302.0,114.2 L302.5,110.6 L303.0,102.2 L303.5,99.7 L304.0,98.7 L304.5,93.9 L305.0,93.0 L305.5,90.2 L306.0,94.5 L306.5,94.9 L307.0,99.1 L307.5,99.7 L308.0,103.2 L308.5,108.5 L309.0,109.1 L309.5,116.9 L310.0,120.6 L310.5,122.1 L311.0,129.1 L311.5,132.4 L312.0,135.9 L312.5,140.4 L313.0,143.7 L313.5,146.9 L314.0,150.1 L314.5,154.8 L315.0,154.3 L315.5,158.9 L316.0,162.0 L316.5,163.0 L317.0,164.2 L317.5,166.6 L318.0,168.7 L318.5,170.3 L319.0,171.9 L319.5,172.8 L320.0,173.8 L320.5,174.6 L321.0,175.2 L321.5,175.6 L322.0,175.9 L322.5,176.1 L323.0,176.1 L323.5,176.1 L324.0,176.1 L324.5,176.1 L325.0,176.1 L325.5,176.1 L326.0,176.1 L326.5,176.1 L327.0,176.1" stroke="#1c1c1c" stroke-width="1.25"/>
</g>
<path d="M285.9,176.4V65.0H397.29999999999995V176.4" fill="none" stroke="#5a5a5a" stroke-width="1.05"/>
<path d="M282.9,176.4H397.9" fill="none" stroke="#2a2a2a" stroke-width="1.4"/>
<path d="M283.1,176.4H285.9M284.2,170.8H285.9M284.2,165.3H285.9M284.2,159.7H285.9M283.1,154.1H285.9M284.2,148.6H285.9M284.2,143.0H285.9M284.2,137.4H285.9M283.1,131.8H285.9M284.2,126.3H285.9M284.2,120.7H285.9M284.2,115.1H285.9M283.1,109.6H285.9M284.2,104.0H285.9M284.2,98.4H285.9M284.2,92.9H285.9M283.1,87.3H285.9M284.2,81.7H285.9M284.2,76.1H285.9M284.2,70.6H285.9M283.1,65.0H285.9" stroke="#444" stroke-width="0.9" fill="none"/>
<path d="M285.9,176.4v2.8M294.3,176.4v1.5M299.2,176.4v1.5M302.7,176.4v1.5M305.4,176.4v1.5M307.6,176.4v1.5M309.4,176.4v1.5M311.1,176.4v1.5M312.5,176.4v1.5M313.8,176.4v2.8M322.1,176.4v1.5M327.0,176.4v1.5M330.5,176.4v1.5M333.2,176.4v1.5M335.4,176.4v1.5M337.3,176.4v1.5M338.9,176.4v1.5M340.3,176.4v1.5M341.6,176.4v2.8M350.0,176.4v1.5M354.9,176.4v1.5M358.4,176.4v1.5M361.1,176.4v1.5M363.3,176.4v1.5M365.1,176.4v1.5M366.8,176.4v1.5M368.2,176.4v1.5M369.4,176.4v2.8M377.8,176.4v1.5M382.7,176.4v1.5M386.2,176.4v1.5M388.9,176.4v1.5M391.1,176.4v1.5M393.0,176.4v1.5M394.6,176.4v1.5M396.0,176.4v1.5M397.3,176.4v2.8" stroke="#333" stroke-width="0.6" fill="none"/>
<text class="sa" x="285.3" y="193.5" font-size="5.7" style="fill:#3a3a3a;stroke:#3a3a3a;stroke-width:0.2px">10</text>
<text class="sa" x="291.8" y="189.8" font-size="6.3" style="fill:#3a3a3a;stroke:#3a3a3a;stroke-width:0.2px">0</text>
<text class="sa" x="311.6" y="193.5" font-size="5.7" style="fill:#3a3a3a;stroke:#3a3a3a;stroke-width:0.2px">10</text>
<text class="sa" x="318.1" y="189.8" font-size="6.3" style="fill:#3a3a3a;stroke:#3a3a3a;stroke-width:0.2px">1</text>
<text class="sa" x="337.9" y="193.5" font-size="5.7" style="fill:#3a3a3a;stroke:#3a3a3a;stroke-width:0.2px">10</text>
<text class="sa" x="344.4" y="189.8" font-size="6.3" style="fill:#3a3a3a;stroke:#3a3a3a;stroke-width:0.2px">2</text>
<text class="sa" x="364.2" y="193.5" font-size="5.7" style="fill:#3a3a3a;stroke:#3a3a3a;stroke-width:0.2px">10</text>
<text class="sa" x="370.7" y="189.8" font-size="6.3" style="fill:#3a3a3a;stroke:#3a3a3a;stroke-width:0.2px">3</text>
<text class="sa" x="390.5" y="193.5" font-size="5.7" style="fill:#3a3a3a;stroke:#3a3a3a;stroke-width:0.2px">10</text>
<text class="sa" x="397.0" y="189.8" font-size="6.3" style="fill:#3a3a3a;stroke:#3a3a3a;stroke-width:0.2px">4</text>
<text class="se" x="315.4" y="206.3" font-size="10.9" textLength="65.6" lengthAdjust="spacingAndGlyphs">IFN-gamma-PE</text>
<g fill="none" stroke-linejoin="round">
<path d="M406.2,170.5 L406.7,168.2 L407.2,165.6 L407.7,162.7 L408.2,161.5 L408.7,159.0 L409.2,156.0 L409.7,151.5 L410.2,150.9 L410.7,145.9 L411.2,143.2 L411.7,142.1 L412.2,137.5 L412.7,134.1 L413.2,129.8 L413.7,122.4 L414.2,118.9 L414.7,111.0 L415.2,99.4 L415.7,94.0 L416.2,88.4 L416.7,82.6 L417.2,77.9 L417.7,72.5 L418.2,70.2 L418.7,74.1 L419.2,74.9 L419.7,78.3 L420.2,80.9 L420.7,86.0 L421.2,93.1 L421.7,99.7 L422.2,104.5 L422.7,111.4 L423.2,121.5 L423.7,124.4 L424.2,128.4 L424.7,133.0 L425.2,138.0 L425.7,138.7 L426.2,141.6 L426.7,146.1 L427.2,147.0 L427.7,151.0 L428.2,154.1 L428.7,155.4 L429.2,157.7 L429.7,159.8 L430.2,161.5 L430.7,163.3 L431.2,165.2 L431.7,167.3 L432.2,169.4 L432.7,171.3 L433.2,172.8 L433.7,173.4 L434.2,174.1 L434.7,174.7 L435.2,175.2 L435.7,175.5 L436.2,175.8 L436.7,176.1 L437.2,176.1 L437.7,176.1 L438.2,176.1 L438.7,176.1 L439.2,176.1 L439.7,176.1 L440.2,176.1 L440.7,176.1 L441.2,176.1" stroke="#8c8c8c" stroke-width="0.8"/>
<path d="M406.2,176.1 L406.7,176.1 L407.2,176.1 L407.7,176.1 L408.2,176.1 L408.7,176.1 L409.2,176.1 L409.7,176.1 L410.2,176.1 L410.7,176.0 L411.2,175.8 L411.7,175.6 L412.2,175.3 L412.7,174.9 L413.2,174.4 L413.7,173.9 L414.2,173.3 L414.7,172.8 L415.2,171.5 L415.7,170.1 L416.2,167.9 L416.7,166.9 L417.2,165.0 L417.7,164.5 L418.2,161.9 L418.7,159.2 L419.2,158.3 L419.7,155.2 L420.2,153.4 L420.7,153.3 L421.2,152.7 L421.7,148.1 L422.2,148.4 L422.7,146.7 L423.2,141.9 L423.7,138.7 L424.2,135.7 L424.7,131.7 L425.2,129.9 L425.7,125.1 L426.2,119.4 L426.7,111.1 L427.2,109.6 L427.7,105.3 L428.2,102.1 L428.7,98.8 L429.2,96.1 L429.7,92.9 L430.2,89.3 L430.7,92.1 L431.2,91.4 L431.7,96.7 L432.2,97.7 L432.7,101.9 L433.2,107.0 L433.7,111.9 L434.2,116.3 L434.7,122.2 L435.2,128.8 L435.7,133.5 L436.2,138.7 L436.7,142.6 L437.2,144.6 L437.7,150.3 L438.2,155.0 L438.7,156.8 L439.2,158.8 L439.7,162.6 L440.2,164.6 L440.7,167.9 L441.2,169.9 L441.7,171.1 L442.2,173.0 L442.7,173.9 L443.2,174.8 L443.7,175.4 L444.2,175.8 L444.7,176.1 L445.2,176.1 L445.7,176.1 L446.2,176.1 L446.7,176.1 L447.2,176.1 L447.7,176.1 L448.2,176.1 L448.7,176.1 L449.2,176.1" stroke="#8c8c8c" stroke-width="0.8"/>
<path d="M406.2,176.1 L406.7,176.1 L407.2,176.1 L407.7,176.1 L408.2,176.1 L408.7,176.1 L409.2,176.1 L409.7,176.1 L410.2,176.1 L410.7,176.1 L411.2,176.1 L411.7,176.1 L412.2,176.1 L412.7,176.1 L413.2,176.1 L413.7,176.1 L414.2,176.1 L414.7,176.1 L415.2,176.1 L415.7,175.8 L416.2,175.6 L416.7,175.3 L417.2,174.8 L417.7,174.2 L418.2,173.6 L418.7,172.7 L419.2,171.3 L419.7,169.4 L420.2,168.3 L420.7,166.0 L421.2,163.6 L421.7,161.4 L422.2,161.0 L422.7,157.6 L423.2,155.5 L423.7,153.7 L424.2,149.8 L424.7,149.1 L425.2,147.0 L425.7,142.9 L426.2,141.4 L426.7,139.4 L427.2,135.8 L427.7,130.9 L428.2,127.0 L428.7,118.7 L429.2,111.7 L429.7,106.9 L430.2,100.2 L430.7,95.4 L431.2,92.9 L431.7,89.3 L432.2,89.0 L432.7,84.7 L433.2,85.5 L433.7,90.2 L434.2,93.6 L434.7,94.9 L435.2,99.8 L435.7,106.9 L436.2,111.5 L436.7,117.3 L437.2,122.7 L437.7,129.2 L438.2,132.7 L438.7,138.5 L439.2,142.7 L439.7,147.5 L440.2,151.6 L440.7,155.4 L441.2,155.8 L441.7,159.4 L442.2,162.7 L442.7,166.1 L443.2,168.3 L443.7,170.3 L444.2,171.8 L444.7,173.1 L445.2,174.2 L445.7,175.0 L446.2,175.6 L446.7,176.0 L447.2,176.1 L447.7,176.1 L448.2,176.1 L448.7,176.1 L449.2,176.1 L449.7,176.1 L450.2,176.1 L450.7,176.1 L451.2,176.1 L451.7,176.1" stroke="#666" stroke-width="1.3" stroke-dasharray="7 2.2"/>
<path d="M406.2,176.1 L406.7,176.1 L407.2,176.1 L407.7,176.1 L408.2,176.1 L408.7,176.1 L409.2,176.1 L409.7,176.1 L410.2,176.1 L410.7,176.0 L411.2,175.8 L411.7,175.5 L412.2,175.2 L412.7,174.8 L413.2,174.3 L413.7,173.8 L414.2,173.1 L414.7,172.0 L415.2,170.6 L415.7,168.8 L416.2,167.3 L416.7,165.7 L417.2,165.2 L417.7,162.1 L418.2,161.8 L418.7,160.5 L419.2,159.6 L419.7,156.4 L420.2,156.2 L420.7,153.8 L421.2,150.5 L421.7,147.9 L422.2,146.0 L422.7,146.6 L423.2,144.0 L423.7,140.0 L424.2,135.0 L424.7,129.0 L425.2,123.9 L425.7,118.3 L426.2,115.2 L426.7,111.0 L427.2,109.0 L427.7,105.8 L428.2,103.6 L428.7,100.2 L429.2,95.6 L429.7,98.9 L430.2,100.9 L430.7,102.8 L431.2,106.1 L431.7,106.6 L432.2,111.2 L432.7,114.3 L433.2,118.1 L433.7,124.8 L434.2,129.9 L434.7,133.5 L435.2,134.9 L435.7,139.5 L436.2,144.9 L436.7,146.7 L437.2,151.8 L437.7,152.5 L438.2,158.4 L438.7,158.6 L439.2,160.4 L439.7,164.2 L440.2,166.2 L440.7,168.7 L441.2,170.1 L441.7,171.6 L442.2,172.8 L442.7,173.7 L443.2,174.6 L443.7,175.2 L444.2,175.6 L444.7,176.0 L445.2,176.1 L445.7,176.1 L446.2,176.1 L446.7,176.1 L447.2,176.1 L447.7,176.1 L448.2,176.1 L448.7,176.1 L449.2,176.1 L449.7,176.1" stroke="#222" stroke-width="1.35" stroke-dasharray="1.4 1.3"/>
<path d="M406.2,176.1 L406.7,176.1 L407.2,176.1 L407.7,176.1 L408.2,176.1 L408.7,176.1 L409.2,176.1 L409.7,176.1 L410.2,175.9 L410.7,175.7 L411.2,175.4 L411.7,175.1 L412.2,174.6 L412.7,174.1 L413.2,173.6 L413.7,172.7 L414.2,171.3 L414.7,169.9 L415.2,168.3 L415.7,167.8 L416.2,165.0 L416.7,164.2 L417.2,162.0 L417.7,160.2 L418.2,157.8 L418.7,158.5 L419.2,156.4 L419.7,153.1 L420.2,151.9 L420.7,149.3 L421.2,149.2 L421.7,144.4 L422.2,146.1 L422.7,140.1 L423.2,138.3 L423.7,135.7 L424.2,128.0 L424.7,125.5 L425.2,119.8 L425.7,115.1 L426.2,112.1 L426.7,108.7 L427.2,106.2 L427.7,100.4 L428.2,102.2 L428.7,97.6 L429.2,101.9 L429.7,99.8 L430.2,103.7 L430.7,105.2 L431.2,107.8 L431.7,113.5 L432.2,117.9 L432.7,122.1 L433.2,126.9 L433.7,129.8 L434.2,132.4 L434.7,138.6 L435.2,141.4 L435.7,144.4 L436.2,148.0 L436.7,151.7 L437.2,155.1 L437.7,159.5 L438.2,160.9 L438.7,161.9 L439.2,165.1 L439.7,166.7 L440.2,169.2 L440.7,170.4 L441.2,172.2 L441.7,173.1 L442.2,174.1 L442.7,174.8 L443.2,175.4 L443.7,175.8 L444.2,176.1 L444.7,176.1 L445.2,176.1 L445.7,176.1 L446.2,176.1 L446.7,176.1 L447.2,176.1 L447.7,176.1 L448.2,176.1 L448.7,176.1 L449.2,176.1" stroke="#1c1c1c" stroke-width="1.25"/>
</g>
<path d="M405.6,176.4V65.0H517.0V176.4" fill="none" stroke="#5a5a5a" stroke-width="1.05"/>
<path d="M402.6,176.4H517.6" fill="none" stroke="#2a2a2a" stroke-width="1.4"/>
<path d="M402.8,176.4H405.6M403.9,170.8H405.6M403.9,165.3H405.6M403.9,159.7H405.6M402.8,154.1H405.6M403.9,148.6H405.6M403.9,143.0H405.6M403.9,137.4H405.6M402.8,131.8H405.6M403.9,126.3H405.6M403.9,120.7H405.6M403.9,115.1H405.6M402.8,109.6H405.6M403.9,104.0H405.6M403.9,98.4H405.6M403.9,92.9H405.6M402.8,87.3H405.6M403.9,81.7H405.6M403.9,76.1H405.6M403.9,70.6H405.6M402.8,65.0H405.6" stroke="#444" stroke-width="0.9" fill="none"/>
<path d="M405.6,176.4v2.8M414.0,176.4v1.5M418.9,176.4v1.5M422.4,176.4v1.5M425.1,176.4v1.5M427.3,176.4v1.5M429.1,176.4v1.5M430.8,176.4v1.5M432.2,176.4v1.5M433.5,176.4v2.8M441.8,176.4v1.5M446.7,176.4v1.5M450.2,176.4v1.5M452.9,176.4v1.5M455.1,176.4v1.5M457.0,176.4v1.5M458.6,176.4v1.5M460.0,176.4v1.5M461.3,176.4v2.8M469.7,176.4v1.5M474.6,176.4v1.5M478.1,176.4v1.5M480.8,176.4v1.5M483.0,176.4v1.5M484.8,176.4v1.5M486.5,176.4v1.5M487.9,176.4v1.5M489.2,176.4v2.8M497.5,176.4v1.5M502.4,176.4v1.5M505.9,176.4v1.5M508.6,176.4v1.5M510.8,176.4v1.5M512.7,176.4v1.5M514.3,176.4v1.5M515.7,176.4v1.5M517.0,176.4v2.8" stroke="#333" stroke-width="0.6" fill="none"/>
<text class="sa" x="405.0" y="193.5" font-size="5.7" style="fill:#3a3a3a;stroke:#3a3a3a;stroke-width:0.2px">10</text>
<text class="sa" x="411.5" y="189.8" font-size="6.3" style="fill:#3a3a3a;stroke:#3a3a3a;stroke-width:0.2px">0</text>
<text class="sa" x="431.3" y="193.5" font-size="5.7" style="fill:#3a3a3a;stroke:#3a3a3a;stroke-width:0.2px">10</text>
<text class="sa" x="437.8" y="189.8" font-size="6.3" style="fill:#3a3a3a;stroke:#3a3a3a;stroke-width:0.2px">1</text>
<text class="sa" x="457.6" y="193.5" font-size="5.7" style="fill:#3a3a3a;stroke:#3a3a3a;stroke-width:0.2px">10</text>
<text class="sa" x="464.1" y="189.8" font-size="6.3" style="fill:#3a3a3a;stroke:#3a3a3a;stroke-width:0.2px">2</text>
<text class="sa" x="483.9" y="193.5" font-size="5.7" style="fill:#3a3a3a;stroke:#3a3a3a;stroke-width:0.2px">10</text>
<text class="sa" x="490.4" y="189.8" font-size="6.3" style="fill:#3a3a3a;stroke:#3a3a3a;stroke-width:0.2px">3</text>
<text class="sa" x="510.2" y="193.5" font-size="5.7" style="fill:#3a3a3a;stroke:#3a3a3a;stroke-width:0.2px">10</text>
<text class="sa" x="516.7" y="189.8" font-size="6.3" style="fill:#3a3a3a;stroke:#3a3a3a;stroke-width:0.2px">4</text>
<text class="se" x="435.8" y="206.9" font-size="10.9" textLength="65.6" lengthAdjust="spacingAndGlyphs">IFN-gamma-PE</text>
<text class="sa" x="40.6" y="156.2" font-size="6.1" text-anchor="end" style="fill:#3a3a3a;stroke:#3a3a3a;stroke-width:0.2px">20</text>
<text class="sa" x="40.6" y="133.9" font-size="6.1" text-anchor="end" style="fill:#3a3a3a;stroke:#3a3a3a;stroke-width:0.2px">40</text>
<text class="sa" x="40.6" y="111.7" font-size="6.1" text-anchor="end" style="fill:#3a3a3a;stroke:#3a3a3a;stroke-width:0.2px">60</text>
<text class="sa" x="40.6" y="89.4" font-size="6.1" text-anchor="end" style="fill:#3a3a3a;stroke:#3a3a3a;stroke-width:0.2px">80</text>
<text class="sa" x="40.6" y="67.1" font-size="6.1" text-anchor="end" style="fill:#3a3a3a;stroke:#3a3a3a;stroke-width:0.2px">100</text>
<path d="M102.7,236.2H211.6V375.1" fill="none" stroke="#666" stroke-width="1.1"/>
<path d="M102.7,235.7V375.1H212.1" fill="none" stroke="#111" stroke-width="1.1"/>
<line x1="99.3" y1="375.1" x2="102.7" y2="375.1" stroke="#111" stroke-width="1.1"/>
<text class="sa" x="95.4" y="378.6" font-size="10" text-anchor="end">0</text>
<line x1="99.3" y1="352.0" x2="102.7" y2="352.0" stroke="#111" stroke-width="1.1"/>
<text class="sa" x="95.4" y="355.5" font-size="10" text-anchor="end">500</text>
<line x1="99.3" y1="328.8" x2="102.7" y2="328.8" stroke="#111" stroke-width="1.1"/>
<text class="sa" x="95.4" y="332.3" font-size="10" text-anchor="end">1000</text>
<line x1="99.3" y1="305.6" x2="102.7" y2="305.6" stroke="#111" stroke-width="1.1"/>
<text class="sa" x="95.4" y="309.1" font-size="10" text-anchor="end">1500</text>
<line x1="99.3" y1="282.5" x2="102.7" y2="282.5" stroke="#111" stroke-width="1.1"/>
<text class="sa" x="95.4" y="286.0" font-size="10" text-anchor="end">2000</text>
<line x1="99.3" y1="259.4" x2="102.7" y2="259.4" stroke="#111" stroke-width="1.1"/>
<text class="sa" x="95.4" y="262.9" font-size="10" text-anchor="end">2500</text>
<line x1="99.3" y1="236.2" x2="102.7" y2="236.2" stroke="#111" stroke-width="1.1"/>
<text class="sa" x="95.4" y="239.7" font-size="10" text-anchor="end">3000</text>
<path d="M116.5,267.5V261.3M113.6,261.3h5.8" stroke="#222" stroke-width="1.1" fill="none"/>
<rect x="112.4" y="267.5" width="8.2" height="107.6" fill="#3a3a3a" stroke="#111" stroke-width="0.8"/>
<path d="M143.4,268.3V262.5M140.5,262.5h5.8" stroke="#222" stroke-width="1.1" fill="none"/>
<rect x="139.3" y="268.3" width="8.2" height="106.8" fill="#3a3a3a" stroke="#111" stroke-width="0.8"/>
<path d="M170.4,289.3V282.5M167.5,282.5h5.8" stroke="#222" stroke-width="1.1" fill="none"/>
<rect x="166.3" y="289.3" width="8.2" height="85.8" fill="#3a3a3a" stroke="#111" stroke-width="0.8"/>
<path d="M197.5,306.8V299.5M194.6,299.5h5.8" stroke="#222" stroke-width="1.1" fill="none"/>
<rect x="193.4" y="306.8" width="8.2" height="68.3" fill="#3a3a3a" stroke="#111" stroke-width="0.8"/>
<text class="se" x="170.6" y="283.4" font-size="16" text-anchor="middle" stroke="#111" stroke-width="0.35">*</text>
<text class="se" x="197.7" y="300.2" font-size="16" text-anchor="middle" stroke="#111" stroke-width="0.35">*</text>
<text class="sa" transform="translate(66.4,305.5) rotate(-90)" text-anchor="middle" font-size="12.5" textLength="64.8" lengthAdjust="spacingAndGlyphs">IFN-γ(pg/ml)</text>
<text class="sa" x="116.2" y="392.4" font-size="9.8" text-anchor="middle">0</text>
<text class="se" x="116.5" y="413.5" font-size="16.5" text-anchor="middle" style="fill:#555;stroke:none">+</text>
<text class="sa" x="143" y="392.4" font-size="9.8" text-anchor="middle">0.1</text>
<text class="se" x="143.4" y="413.5" font-size="16.5" text-anchor="middle" style="fill:#555;stroke:none">+</text>
<text class="sa" x="170" y="392.4" font-size="9.8" text-anchor="middle">1</text>
<text class="se" x="170.4" y="413.5" font-size="16.5" text-anchor="middle" style="fill:#555;stroke:none">+</text>
<text class="sa" x="198.2" y="392.4" font-size="9.8" text-anchor="middle">10</text>
<text class="se" x="198.20000000000002" y="413.5" font-size="16.5" text-anchor="middle" style="fill:#555;stroke:none">+</text>
<text class="se" x="10.8" y="393.3" font-size="11.8" textLength="78.5" lengthAdjust="spacingAndGlyphs">1' IL-12 (ng/ml):</text>
<text class="se" x="10.8" y="409.6" font-size="11.8" textLength="96.3" lengthAdjust="spacingAndGlyphs" xml:space="preserve">2' IL-12 (10  ng/ml):</text>
<path d="M299.4,235.2H517.2V375.3" fill="none" stroke="#666" stroke-width="1.1"/>
<path d="M299.4,234.7V375.3H517.7" fill="none" stroke="#111" stroke-width="1.1"/>
<line x1="295.79999999999995" y1="375.3" x2="299.4" y2="375.3" stroke="#111" stroke-width="1.1"/>
<text class="sa" x="292.5" y="378.2" font-size="9.8" text-anchor="end">0</text>
<line x1="295.79999999999995" y1="347.3" x2="299.4" y2="347.3" stroke="#111" stroke-width="1.1"/>
<text class="sa" x="292.5" y="350.2" font-size="9.8" text-anchor="end">1</text>
<line x1="295.79999999999995" y1="319.3" x2="299.4" y2="319.3" stroke="#111" stroke-width="1.1"/>
<text class="sa" x="292.5" y="322.2" font-size="9.8" text-anchor="end">2</text>
<line x1="295.79999999999995" y1="291.2" x2="299.4" y2="291.2" stroke="#111" stroke-width="1.1"/>
<text class="sa" x="292.5" y="294.1" font-size="9.8" text-anchor="end">3</text>
<line x1="295.79999999999995" y1="263.2" x2="299.4" y2="263.2" stroke="#111" stroke-width="1.1"/>
<text class="sa" x="292.5" y="266.1" font-size="9.8" text-anchor="end">4</text>
<line x1="295.79999999999995" y1="235.2" x2="299.4" y2="235.2" stroke="#111" stroke-width="1.1"/>
<text class="sa" x="292.5" y="238.1" font-size="9.8" text-anchor="end">5</text>
<rect x="311.30" y="347.4" width="10.05" height="27.9" fill="#c6c6c6" stroke="#111" stroke-width="0.8"/>
<rect x="321.35" y="347.4" width="10.05" height="27.9" fill="#888888" stroke="#111" stroke-width="0.8"/>
<rect x="331.40" y="347.4" width="10.05" height="27.9" fill="#3a3a3a" stroke="#111" stroke-width="0.8"/>
<path d="M370.8,344.5V337.8M367.8,337.8h6" stroke="#222" stroke-width="0.9" fill="none"/>
<rect x="365.80" y="344.5" width="10.05" height="30.8" fill="#c6c6c6" stroke="#111" stroke-width="0.8"/>
<path d="M380.9,342.5V336.3M377.9,336.3h6" stroke="#222" stroke-width="0.9" fill="none"/>
<rect x="375.85" y="342.5" width="10.05" height="32.8" fill="#888888" stroke="#111" stroke-width="0.8"/>
<path d="M390.9,343.3V336.5M387.9,336.5h6" stroke="#222" stroke-width="0.9" fill="none"/>
<rect x="385.90" y="343.3" width="10.05" height="32.0" fill="#3a3a3a" stroke="#111" stroke-width="0.8"/>
<path d="M425.4,335.7V327.3M422.4,327.3h6" stroke="#222" stroke-width="0.9" fill="none"/>
<rect x="420.40" y="335.7" width="10.05" height="39.6" fill="#c6c6c6" stroke="#111" stroke-width="0.8"/>
<path d="M435.4,327.3V320.0M432.4,320.0h6" stroke="#222" stroke-width="0.9" fill="none"/>
<rect x="430.45" y="327.3" width="10.05" height="48.0" fill="#888888" stroke="#111" stroke-width="0.8"/>
<path d="M445.5,332.9V326.5M442.5,326.5h6" stroke="#222" stroke-width="0.9" fill="none"/>
<rect x="440.50" y="332.9" width="10.05" height="42.4" fill="#3a3a3a" stroke="#111" stroke-width="0.8"/>
<path d="M479.7,316.2V308.5M476.7,308.5h6" stroke="#222" stroke-width="0.9" fill="none"/>
<rect x="474.70" y="316.2" width="10.05" height="59.1" fill="#c6c6c6" stroke="#111" stroke-width="0.8"/>
<path d="M489.8,274.2V267.0M486.8,267.0h6" stroke="#222" stroke-width="0.9" fill="none"/>
<rect x="484.75" y="274.2" width="10.05" height="101.1" fill="#888888" stroke="#111" stroke-width="0.8"/>
<path d="M499.8,298.2V290.8M496.8,290.8h6" stroke="#222" stroke-width="0.9" fill="none"/>
<rect x="494.80" y="298.2" width="10.05" height="77.1" fill="#3a3a3a" stroke="#111" stroke-width="0.8"/>
<text class="se" x="425.2" y="326.3" font-size="15" text-anchor="middle" stroke="#111" stroke-width="0.35">*</text>
<text class="se" x="435.4" y="319.6" font-size="15" text-anchor="middle" stroke="#111" stroke-width="0.35">*</text>
<text class="se" x="445.9" y="326.3" font-size="15" text-anchor="middle" stroke="#111" stroke-width="0.35">*</text>
<text class="se" x="478.8" y="307.2" font-size="15" text-anchor="middle" stroke="#111" stroke-width="0.35">*</text>
<text class="se" x="486.6" y="267.2" font-size="15" text-anchor="middle" stroke="#111" stroke-width="0.35">*</text>
<text class="se" x="494.4" y="267.2" font-size="15" text-anchor="middle" stroke="#111" stroke-width="0.35">*</text>
<text class="se" x="499.0" y="291.7" font-size="15" text-anchor="middle" stroke="#111" stroke-width="0.35">*</text>
<text class="se" x="506.0" y="291.7" font-size="15" text-anchor="middle" stroke="#111" stroke-width="0.35">*</text>
<rect x="311.9" y="243.3" width="6.4" height="6.4" fill="#c6c6c6" stroke="#111" stroke-width="0.8"/>
<text class="sa" x="321.2" y="250.1" font-size="10.45">miR-132</text>
<rect x="311.9" y="258.7" width="6.4" height="6.4" fill="#888888" stroke="#111" stroke-width="0.8"/>
<text class="sa" x="321.2" y="265.5" font-size="10.45">miR-212</text>
<rect x="311.9" y="273.9" width="6.4" height="6.4" fill="#3a3a3a" stroke="#111" stroke-width="0.8"/>
<text class="sa" x="321.2" y="280.7" font-size="10.45">miR-200a</text>
<text class="sa" transform="translate(280.0,303) rotate(-90)" text-anchor="middle" font-size="12.2" textLength="127" lengthAdjust="spacingAndGlyphs">Relative expression levels</text>
<text class="sa" x="326.6" y="392.2" font-size="9.6" text-anchor="middle">0</text>
<text class="sa" x="380" y="392.2" font-size="9.6" text-anchor="middle">0.1</text>
<text class="sa" x="435.4" y="392.2" font-size="9.6" text-anchor="middle">1</text>
<text class="sa" x="489.8" y="392.2" font-size="9.6" text-anchor="middle">10</text>
<text class="se" x="327.2" y="413.2" font-size="16.5" text-anchor="middle" style="fill:#555;stroke:none">+</text>
<text class="se" x="381.9" y="413.2" font-size="16.5" text-anchor="middle" style="fill:#555;stroke:none">+</text>
<text class="se" x="435.59999999999997" y="413.2" font-size="16.5" text-anchor="middle" style="fill:#555;stroke:none">+</text>
<text class="se" x="491.59999999999997" y="413.2" font-size="16.5" text-anchor="middle" style="fill:#555;stroke:none">+</text>
<text class="se" x="223" y="393.3" font-size="12" textLength="79.4" lengthAdjust="spacingAndGlyphs">1' IL-12 (ng/ml):</text>
<text class="se" x="223" y="409.6" font-size="12" textLength="98.6" lengthAdjust="spacingAndGlyphs" xml:space="preserve">2' IL-12 (10  ng/ml):</text>
</svg></body></html>
